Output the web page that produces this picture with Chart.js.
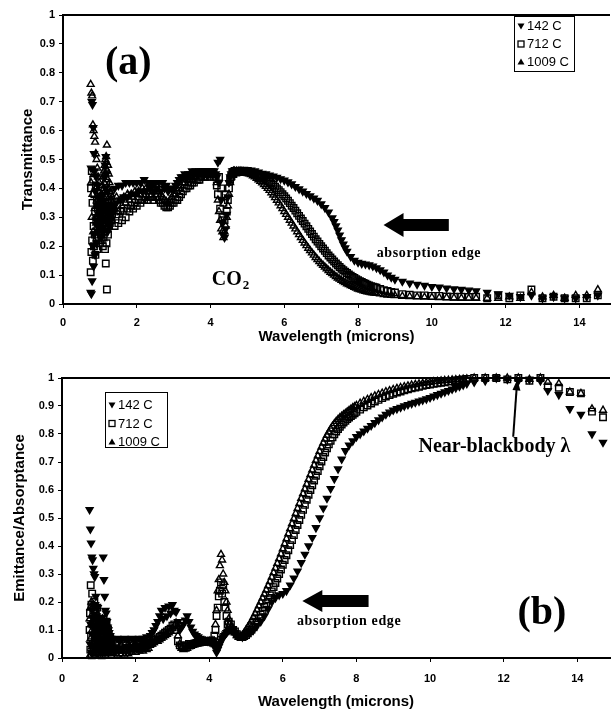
<!DOCTYPE html>
<html>
<head>
<meta charset="utf-8">
<script src="https://cdn.jsdelivr.net/npm/chart.js@4.4.0/dist/chart.umd.min.js"></script>
<style>
  html, body { margin: 0; padding: 0; background: #fff; overflow: hidden; }
  .panel { position: absolute; left: 0; width: 616px; height: 357px; }
  #panelA { top: 0; }
  #panelB { top: 357px; }
</style>
</head>
<body>
<div class="panel" id="panelA"><canvas id="chartA" width="616" height="357"></canvas></div>
<div class="panel" id="panelB"><canvas id="chartB" width="616" height="357"></canvas></div>
<script>
const sans = "'Liberation Sans', Arial, Helvetica, sans-serif";
const serif = "'Liberation Serif', 'Times New Roman', Times, serif";
Chart.defaults.font.family = sans;
Chart.defaults.color = '#000';

const seriesNames = ['142 C', '712 C', '1009 C'];

// (a) transmittance vs wavelength (microns)
const wavelengthA = [
  0.75, 0.76, 0.77, 0.78, 0.79, 0.80, 0.81, 0.82, 0.83, 0.84, 0.85, 0.86, 0.87, 0.88, 0.89, 0.90, 0.91, 0.92, 0.93, 0.94, 0.95, 0.96, 0.97, 0.98, 0.99, 1.00,
  1.01, 1.02, 1.03, 1.04, 1.05, 1.06, 1.07, 1.08, 1.09, 1.10, 1.11, 1.12, 1.13, 1.14, 1.15, 1.16, 1.17, 1.18, 1.19, 1.20, 1.21, 1.22, 1.23, 1.24, 1.25, 1.26, 1.27, 1.28, 1.29, 1.30, 1.31, 1.32, 1.33, 1.34,
  1.40, 1.45, 1.50, 1.55, 1.60, 1.65, 1.70, 1.75, 1.80, 1.85, 1.90, 1.95, 2.00, 2.05, 2.10, 2.15, 2.20, 2.25, 2.30, 2.35, 2.40, 2.45, 2.50, 2.55, 2.60, 2.65, 2.70, 2.75, 2.80, 2.85,
  2.90, 2.95, 3.00, 3.05, 3.10, 3.15, 3.20, 3.25, 3.30, 3.35, 3.40, 3.45, 3.50, 3.55, 3.60, 3.65, 3.70, 3.75, 3.80, 3.85, 3.90, 3.95, 4.00, 4.05, 4.10,
  4.14, 4.17, 4.20, 4.23, 4.26, 4.29, 4.32, 4.35, 4.38, 4.41, 4.44, 4.47, 4.50, 4.53, 4.56, 4.59, 4.62, 4.65,
  4.70, 4.75, 4.80, 4.85, 4.90, 4.95,
  5.00, 5.05, 5.10, 5.15, 5.20, 5.25, 5.30, 5.35, 5.40, 5.45, 5.50, 5.55, 5.60, 5.65, 5.70, 5.75, 5.80, 5.85, 5.90, 5.95,
  6.00, 6.05, 6.10, 6.15, 6.20, 6.25, 6.30, 6.35, 6.40, 6.45, 6.50, 6.55, 6.60, 6.65, 6.70, 6.75, 6.80, 6.85, 6.90, 6.95,
  7.00, 7.05, 7.10, 7.15, 7.20, 7.25, 7.30, 7.35, 7.40, 7.45, 7.50, 7.55, 7.60, 7.65, 7.70, 7.75, 7.80, 7.85, 7.90, 7.95,
  8.00, 8.05, 8.10, 8.15, 8.20, 8.25, 8.30, 8.35, 8.40, 8.45, 8.50,
  8.6, 8.7, 8.8, 8.9, 9.0,
  9.2, 9.4, 9.6, 9.8, 10.0, 10.2, 10.4, 10.6, 10.8, 11.0,
  11.2, 11.5, 11.8, 12.1, 12.4, 12.7, 13.0, 13.3, 13.6, 13.9, 14.2, 14.5
];
const trans142 = [
  0.04, 0.47, 0.035, 0.70, 0.08, 0.69, 0.20, 0.61, 0.13, 0.52, 0.24, 0.46, 0.17, 0.39, 0.29, 0.44, 0.21, 0.34, 0.27, 0.41, 0.25, 0.37, 0.31, 0.35, 0.30, 0.36,
  0.31, 0.26, 0.34, 0.23, 0.30, 0.28, 0.35, 0.25, 0.32, 0.38, 0.29, 0.44, 0.36, 0.48, 0.40, 0.51, 0.33, 0.45, 0.28, 0.39, 0.25, 0.34, 0.29, 0.31, 0.27, 0.33, 0.30, 0.32, 0.29, 0.34, 0.31, 0.33, 0.32, 0.34,
  0.40, 0.35, 0.41, 0.36, 0.41, 0.37, 0.42, 0.37, 0.42, 0.38, 0.42, 0.38, 0.42, 0.39, 0.42, 0.39, 0.43, 0.39, 0.42, 0.40, 0.42, 0.39, 0.42, 0.40, 0.42, 0.39, 0.42, 0.40, 0.41, 0.39,
  0.40, 0.40, 0.40, 0.41, 0.42, 0.43, 0.44, 0.44, 0.45, 0.44, 0.45, 0.45, 0.46, 0.45, 0.46, 0.45, 0.46, 0.46, 0.46, 0.46, 0.46, 0.46, 0.46, 0.46, 0.46,
  0.45, 0.44, 0.49, 0.42, 0.50, 0.36, 0.28, 0.24, 0.23, 0.26, 0.31, 0.37, 0.42, 0.44, 0.45, 0.46, 0.46, 0.46,
  0.46, null, 0.465, null, 0.466, null,
  0.465, null, 0.463, null, 0.46, null, 0.456, null, 0.452, null, 0.45, null, 0.446, null, 0.442, null, 0.438, null, 0.433, null,
  0.428, null, 0.422, null, 0.415, null, 0.406, null, 0.398, null, 0.39, null, 0.382, null, 0.374, null, 0.366, null, 0.358, null,
  0.346, null, 0.333, null, 0.318, null, 0.298, 0.285, 0.27, 0.255, 0.238, 0.222, 0.207, 0.194, 0.182, null, 0.164, null, 0.151, null,
  0.144, null, 0.14, null, 0.138, null, 0.135, null, 0.131, null, 0.125,
  0.118, 0.11, 0.10, 0.092, 0.085,
  0.078, 0.072, 0.068, 0.064, 0.06, 0.058, 0.055, 0.052, 0.05, 0.048,
  0.045, 0.04, 0.035, 0.03, 0.025, 0.03, 0.02, 0.025, 0.02, 0.02, 0.025, 0.03
];
const trans712 = [
  0.11, 0.40, 0.18, 0.46, 0.22, 0.35, 0.15, 0.43, 0.27, 0.20, 0.38, 0.24, 0.32, 0.17, 0.41, 0.29, 0.23, 0.36, 0.19, 0.33, 0.26, 0.30, 0.21, 0.34, 0.28, 0.32,
  0.27, 0.32, 0.24, 0.29, 0.22, 0.31, 0.26, 0.20, 0.28, 0.23, 0.33, 0.25, 0.30, 0.19, 0.37, 0.14, 0.42, 0.21, 0.05, 0.26, 0.34, 0.24, 0.29, 0.32, 0.27, 0.31, 0.28, 0.33, 0.30, 0.32, 0.29, 0.33, 0.31, 0.33,
  0.27, 0.31, 0.28, 0.32, 0.29, 0.33, 0.30, 0.33, 0.32, 0.34, 0.33, 0.35, 0.34, 0.36, 0.35, 0.36, 0.36, 0.37, 0.36, 0.37, 0.37, 0.36, 0.37, 0.37, 0.36, 0.35, 0.35, 0.34, 0.335, 0.335,
  0.34, 0.35, 0.35, 0.36, 0.36, 0.37, 0.38, 0.39, 0.40, 0.40, 0.41, 0.41, 0.42, 0.42, 0.43, 0.43, 0.43, 0.44, 0.44, 0.44, 0.44, 0.45, 0.44, 0.45, 0.44,
  0.44, 0.41, 0.38, 0.44, 0.33, 0.40, 0.30, 0.35, 0.29, 0.38, 0.32, 0.36, 0.40, 0.43, 0.44, 0.45, 0.45, 0.46,
  0.455, 0.457, 0.458, 0.458, 0.458, 0.457,
  0.456, 0.455, 0.453, 0.451, 0.449, 0.446, 0.443, 0.44, 0.437, 0.434, 0.43, 0.426, 0.422, 0.417, 0.412, 0.406, 0.40, 0.394, 0.387, 0.38,
  0.373, 0.365, 0.357, 0.349, 0.34, 0.332, 0.323, 0.314, 0.305, 0.296, 0.287, 0.278, 0.269, 0.26, 0.251, 0.242, 0.233, 0.224, 0.216, 0.208,
  0.2, 0.192, 0.184, 0.176, 0.168, 0.161, 0.154, 0.147, 0.14, 0.134, 0.128, 0.122, 0.117, 0.112, 0.107, 0.102, 0.098, 0.094, 0.09, 0.086,
  0.082, 0.079, 0.076, 0.073, 0.07, 0.067, 0.064, 0.062, 0.06, 0.058, 0.056,
  0.052, 0.048, 0.045, 0.042, 0.04,
  0.034, 0.032, 0.03, 0.03, 0.028, 0.028, 0.026, 0.025, 0.025, 0.024,
  0.025, 0.02, 0.03, 0.02, 0.03, 0.05, 0.02, 0.025, 0.02, 0.02, 0.02, 0.03
];
const trans1009 = [
  0.76, 0.42, 0.73, 0.30, 0.72, 0.38, 0.62, 0.25, 0.60, 0.45, 0.58, 0.33, 0.56, 0.40, 0.52, 0.28, 0.50, 0.36, 0.47, 0.31, 0.44, 0.39, 0.35, 0.42, 0.37, 0.33,
  0.33, 0.30, 0.36, 0.27, 0.38, 0.32, 0.41, 0.35, 0.44, 0.40, 0.46, 0.42, 0.48, 0.45, 0.50, 0.47, 0.51, 0.49, 0.55, 0.46, 0.43, 0.48, 0.40, 0.45, 0.37, 0.42, 0.35, 0.39, 0.33, 0.38, 0.36, 0.34, 0.37, 0.35,
  0.33, 0.37, 0.32, 0.36, 0.34, 0.37, 0.35, 0.38, 0.36, 0.38, 0.37, 0.39, 0.38, 0.39, 0.38, 0.40, 0.39, 0.40, 0.39, 0.40, 0.40, 0.40, 0.40, 0.39, 0.39, 0.38, 0.37, 0.36, 0.355, 0.35,
  0.36, 0.37, 0.38, 0.38, 0.39, 0.40, 0.41, 0.42, 0.42, 0.43, 0.43, 0.43, 0.44, 0.44, 0.44, 0.45, 0.45, 0.45, 0.45, 0.45, 0.45, 0.45, 0.45, 0.45, 0.45,
  0.45, 0.42, 0.36, 0.32, 0.29, 0.26, 0.25, 0.23, 0.25, 0.27, 0.30, 0.34, 0.38, 0.42, 0.44, 0.45, 0.46, 0.46,
  0.46, 0.46, 0.46, 0.459, 0.458, 0.456,
  0.454, 0.451, 0.448, 0.444, 0.44, 0.435, 0.43, 0.425, 0.419, 0.413, 0.407, 0.40, 0.393, 0.385, 0.377, 0.368, 0.359, 0.35, 0.34, 0.33,
  0.32, 0.31, 0.30, 0.29, 0.28, 0.27, 0.26, 0.25, 0.24, 0.23, 0.22, 0.211, 0.202, 0.193, 0.185, 0.177, 0.169, 0.161, 0.154, 0.147,
  0.14, 0.134, 0.128, 0.122, 0.116, 0.11, 0.105, 0.10, 0.095, 0.09, 0.086, 0.082, 0.078, 0.074, 0.07, 0.067, 0.064, 0.061, 0.058, 0.055,
  0.052, 0.05, 0.048, 0.046, 0.044, 0.042, 0.041, 0.04, 0.039, 0.038, 0.037,
  0.035, 0.033, 0.031, 0.03, 0.029,
  0.027, 0.026, 0.025, 0.024, 0.023, 0.022, 0.022, 0.021, 0.02, 0.02,
  0.02, 0.02, 0.02, 0.025, 0.02, 0.04, 0.025, 0.03, 0.02, 0.03, 0.03, 0.05
];

// (b) emittance / absorptance vs wavelength (microns)
const wavelengthB = [
  0.75, 0.76, 0.77, 0.78, 0.79, 0.80, 0.81, 0.82, 0.83, 0.84, 0.85, 0.86, 0.87, 0.88, 0.89, 0.90, 0.91, 0.92, 0.93, 0.94, 0.95, 0.96, 0.97, 0.98, 0.99, 1.00,
  1.01, 1.02, 1.03, 1.04, 1.05, 1.06, 1.07, 1.08, 1.09, 1.10, 1.11, 1.12, 1.13, 1.14, 1.15, 1.16, 1.17, 1.18, 1.19, 1.20, 1.21, 1.22, 1.23, 1.24, 1.25, 1.26, 1.27, 1.28, 1.29, 1.30, 1.31, 1.32, 1.33, 1.34,
  1.40, 1.45, 1.50, 1.55, 1.60, 1.65, 1.70, 1.75, 1.80, 1.85, 1.90, 1.95, 2.00, 2.05, 2.10, 2.15, 2.20, 2.25, 2.30, 2.35, 2.40, 2.45, 2.50, 2.55, 2.60, 2.65, 2.70, 2.75, 2.80, 2.85,
  2.90, 2.95, 3.00, 3.05, 3.10, 3.15, 3.20, 3.25, 3.30, 3.35, 3.40, 3.45, 3.50, 3.55, 3.60, 3.65, 3.70, 3.75, 3.80, 3.85, 3.90, 3.95, 4.00, 4.05, 4.10,
  4.14, 4.17, 4.20, 4.23, 4.26, 4.29, 4.32, 4.35, 4.38, 4.41, 4.44, 4.47, 4.50, 4.53, 4.56, 4.59, 4.62, 4.65,
  4.70, 4.75, 4.80, 4.85, 4.90, 4.95,
  5.00, 5.05, 5.10, 5.15, 5.20, 5.25, 5.30, 5.35, 5.40, 5.45, 5.50, 5.55, 5.60, 5.65, 5.70, 5.75, 5.80, 5.85, 5.90, 5.95,
  6.00, 6.05, 6.10, 6.15, 6.20, 6.25, 6.30, 6.35, 6.40, 6.45, 6.50, 6.55, 6.60, 6.65, 6.70, 6.75, 6.80, 6.85, 6.90, 6.95,
  7.00, 7.05, 7.10, 7.15, 7.20, 7.25, 7.30, 7.35, 7.40, 7.45, 7.50, 7.55, 7.60, 7.65, 7.70, 7.75, 7.80, 7.85, 7.90, 7.95,
  8.00,
  8.1, 8.2, 8.3, 8.4, 8.5, 8.6, 8.7, 8.8, 8.9, 9.0, 9.1, 9.2, 9.3, 9.4, 9.5, 9.6, 9.7, 9.8, 9.9, 10.0,
  10.1, 10.2, 10.3, 10.4, 10.5, 10.6, 10.7, 10.8, 10.9, 11.0,
  11.2, 11.5, 11.8, 12.1, 12.4, 12.7, 13.0, 13.2, 13.5, 13.8, 14.1, 14.4, 14.7
];
const emit142 = [
  0.53, 0.05, 0.46, 0.12, 0.41, 0.02, 0.36, 0.17, 0.35, 0.08, 0.32, 0.14, 0.30, 0.04, 0.29, 0.19, 0.10, 0.22, 0.06, 0.15, 0.03, 0.11, 0.18, 0.07, 0.13, 0.09,
  0.09, 0.04, 0.12, 0.02, 0.10, 0.06, 0.14, 0.03, 0.11, 0.07, 0.13, 0.36, 0.05, 0.28, 0.09, 0.22, 0.04, 0.17, 0.12, 0.16, 0.08, 0.13, 0.03, 0.11, 0.06, 0.10, 0.04, 0.09, 0.07, 0.05, 0.08, 0.04, 0.07, 0.05,
  0.065, 0.03, 0.07, 0.035, 0.065, 0.03, 0.07, 0.04, 0.065, 0.035, 0.07, 0.04, 0.065, 0.04, 0.07, 0.045, 0.07, 0.05, 0.075, 0.06, 0.08, 0.09, 0.10, 0.115, 0.13, 0.15, 0.17, 0.14, 0.18, 0.15,
  0.185, 0.16, 0.19, 0.17, 0.165, 0.13, 0.10, 0.11, 0.12, 0.135, 0.15, 0.13, 0.11, 0.095, 0.085, 0.08, 0.075, 0.07, 0.068, 0.065, 0.062, 0.06, 0.058, 0.055, 0.05,
  0.05, 0.035, 0.02, 0.03, 0.04, 0.05, 0.06, 0.07, 0.075, 0.08, 0.085, 0.09, 0.095, 0.10, 0.10, 0.10, 0.10, 0.095,
  0.09, null, 0.08, null, 0.075, null,
  0.08, null, 0.09, null, 0.10, null, 0.115, null, 0.13, null, 0.15, null, 0.175, null, 0.20, null, 0.215, null, 0.225, null,
  0.23, null, 0.24, null, 0.26, null, 0.285, null, 0.31, null, 0.34, null, 0.37, null, 0.40, null, 0.43, null, 0.465, null,
  0.50, null, 0.535, null, 0.57, null, 0.605, null, 0.64, null, 0.675, null, 0.71, null, 0.74, null, 0.76, null, 0.775, null,
  0.79,
  0.80, 0.81, 0.82, 0.83, 0.84, 0.85, 0.86, 0.87, 0.878, 0.885, 0.89, 0.895, 0.90, 0.905, 0.909, 0.913, 0.917, 0.921, 0.925, 0.93,
  0.935, 0.94, 0.945, 0.95, 0.955, 0.96, 0.965, 0.97, 0.975, 0.98,
  0.985, 0.99, 1.0, 0.995, 0.99, 0.995, 0.99, 0.955, 0.94, 0.89, 0.87, 0.80, 0.77
];
const emit712 = [
  0.10, 0.16, 0.03, 0.26, 0.08, 0.19, 0.01, 0.23, 0.12, 0.05, 0.17, 0.02, 0.14, 0.20, 0.07, 0.11, 0.04, 0.16, 0.09, 0.13, 0.02, 0.18, 0.06, 0.10, 0.04, 0.08,
  0.05, 0.11, 0.02, 0.08, 0.13, 0.04, 0.09, 0.01, 0.12, 0.06, 0.03, 0.10, 0.14, 0.05, 0.08, 0.02, 0.11, 0.06, 0.03, 0.09, 0.13, 0.04, 0.07, 0.02, 0.10, 0.05, 0.08, 0.03, 0.06, 0.04, 0.07, 0.03, 0.05, 0.04,
  0.035, 0.05, 0.03, 0.045, 0.035, 0.05, 0.03, 0.045, 0.035, 0.05, 0.035, 0.045, 0.04, 0.05, 0.04, 0.05, 0.04, 0.05, 0.045, 0.05, 0.05, 0.055, 0.06, 0.065, 0.07, 0.075, 0.08, 0.085, 0.09, 0.095,
  0.10, 0.105, 0.115, 0.12, 0.10, 0.06, 0.045, 0.04, 0.04, 0.045, 0.045, 0.05, 0.05, 0.05, 0.052, 0.054, 0.055, 0.056, 0.057, 0.058, 0.058, 0.06, 0.06, 0.062, 0.06,
  0.08, 0.10, 0.15, 0.18, 0.22, 0.24, 0.27, 0.23, 0.26, 0.20, 0.18, 0.15, 0.12, 0.13, 0.11, 0.12, 0.10, 0.10,
  0.095, 0.085, 0.078, 0.075, 0.075, 0.078,
  0.082, 0.088, 0.095, 0.102, 0.11, 0.12, 0.13, 0.142, 0.155, 0.168, 0.182, 0.196, 0.21, 0.224, 0.238, 0.253, 0.268, 0.284, 0.30, 0.316,
  0.333, 0.35, 0.367, 0.385, 0.403, 0.421, 0.439, 0.457, 0.475, 0.493, 0.511, 0.529, 0.547, 0.565, 0.583, 0.60, 0.617, 0.634, 0.651, 0.668,
  0.685, 0.702, 0.718, 0.734, 0.749, 0.763, 0.776, 0.788, 0.799, 0.809, 0.818, 0.826, 0.834, 0.841, 0.847, 0.853, 0.859, 0.864, 0.869, 0.874,
  0.879,
  0.887, 0.895, 0.902, 0.909, 0.916, 0.922, 0.928, 0.934, 0.939, 0.944, 0.948, 0.952, 0.956, 0.96, 0.963, 0.966, 0.969, 0.972, 0.975, 0.977,
  0.979, 0.981, 0.983, 0.985, 0.987, 0.989, 0.991, 0.993, 0.995, 0.997,
  1.0, 1.0, 1.0, 0.995, 1.0, 0.99, 1.0, 0.97, 0.965, 0.95, 0.945, 0.88, 0.86
];
const emit1009 = [
  0.14, 0.01, 0.18, 0.07, 0.12, 0.20, 0.04, 0.10, 0.15, 0.02, 0.09, 0.19, 0.06, 0.13, 0.01, 0.17, 0.11, 0.03, 0.14, 0.05, 0.12, 0.08, 0.02, 0.15, 0.06, 0.11,
  0.07, 0.01, 0.10, 0.05, 0.03, 0.12, 0.06, 0.09, 0.02, 0.14, 0.08, 0.04, 0.11, 0.02, 0.06, 0.13, 0.07, 0.01, 0.10, 0.04, 0.08, 0.02, 0.12, 0.05, 0.03, 0.09, 0.02, 0.06, 0.04, 0.07, 0.03, 0.05, 0.02, 0.04,
  0.015, 0.025, 0.01, 0.025, 0.015, 0.025, 0.01, 0.025, 0.015, 0.025, 0.02, 0.03, 0.02, 0.03, 0.025, 0.03, 0.025, 0.035, 0.03, 0.035, 0.05, 0.05, 0.055, 0.06, 0.06, 0.065, 0.07, 0.075, 0.08, 0.085,
  0.09, 0.095, 0.105, 0.115, 0.125, 0.08, 0.05, 0.035, 0.03, 0.032, 0.035, 0.04, 0.042, 0.045, 0.048, 0.05, 0.052, 0.054, 0.055, 0.056, 0.057, 0.058, 0.06, 0.06, 0.062,
  0.06, 0.12, 0.17, 0.24, 0.28, 0.33, 0.37, 0.35, 0.30, 0.27, 0.24, 0.20, 0.17, 0.14, 0.12, 0.11, 0.11, 0.10,
  0.09, 0.08, 0.075, 0.077, 0.082, 0.09,
  0.10, 0.11, 0.12, 0.132, 0.145, 0.158, 0.172, 0.186, 0.20, 0.214, 0.228, 0.243, 0.258, 0.273, 0.289, 0.305, 0.321, 0.338, 0.355, 0.372,
  0.39, 0.408, 0.426, 0.444, 0.462, 0.48, 0.498, 0.516, 0.534, 0.552, 0.57, 0.587, 0.604, 0.621, 0.638, 0.655, 0.672, 0.689, 0.706, 0.722,
  0.738, 0.753, 0.768, 0.782, 0.795, 0.807, 0.818, 0.828, 0.837, 0.845, 0.852, 0.858, 0.864, 0.869, 0.874, 0.879, 0.884, 0.889, 0.894, 0.898,
  0.902,
  0.91, 0.917, 0.924, 0.93, 0.936, 0.941, 0.946, 0.951, 0.955, 0.959, 0.963, 0.966, 0.969, 0.972, 0.975, 0.977, 0.979, 0.981, 0.983, 0.985,
  0.987, 0.988, 0.99, 0.991, 0.992, 0.993, 0.994, 0.995, 0.996, 0.997,
  1.0, 1.0, 1.0, 1.0, 1.0, 0.995, 1.0, 0.985, 0.98, 0.95, 0.945, 0.89, 0.885
];

// marker look per series: filled down-triangle, open square, open triangle
const markerStyles = [
  { pointStyle: 'triangle', rotation: 180, fill: '#000', radius: 4 },
  { pointStyle: 'rect', rotation: 0, fill: 'rgba(255,255,255,0)', radius: 4.6 },
  { pointStyle: 'triangle', rotation: 0, fill: 'rgba(255,255,255,0)', radius: 4 }
];

function toPoints(xs, ys) {
  const out = [];
  xs.forEach(function(x, i) {
    if (ys[i] !== null && ys[i] !== undefined) out.push({ x: x, y: ys[i] });
  });
  return out;
}

function legendMark(ctx, i, x, y) {
  ctx.beginPath();
  if (i === 0) {
    ctx.moveTo(x - 3.5, y - 2.5); ctx.lineTo(x + 3.5, y - 2.5); ctx.lineTo(x, y + 3.5);
    ctx.closePath(); ctx.fill();
  } else if (i === 1) {
    ctx.lineWidth = 1.3;
    ctx.strokeRect(x - 3, y - 3, 6, 6);
  } else {
    ctx.moveTo(x - 3.5, y + 2.5); ctx.lineTo(x + 3.5, y + 2.5); ctx.lineTo(x, y - 3.5);
    ctx.closePath(); ctx.fill();
  }
}

function drawLegend(ctx, box) {
  ctx.save();
  ctx.fillStyle = '#fff';
  ctx.fillRect(box.x, box.y, box.w, box.h);
  ctx.strokeStyle = '#000';
  ctx.lineWidth = 1;
  ctx.strokeRect(box.x + 0.5, box.y + 0.5, box.w, box.h);
  ctx.fillStyle = '#000';
  ctx.font = '13px ' + sans;
  ctx.textAlign = 'left';
  ctx.textBaseline = 'middle';
  seriesNames.forEach(function(name, i) {
    const y = box.y + box.row0 + i * box.rowH;
    legendMark(ctx, i, box.x + 7, y);
    ctx.fillText(name, box.x + 13, y + 0.5);
  });
  ctx.restore();
}

function blockArrow(ctx, tipX, endX, y, headH, shaftH, headL) {
  ctx.beginPath();
  ctx.moveTo(tipX, y);
  ctx.lineTo(tipX + headL, y - headH / 2);
  ctx.lineTo(tipX + headL, y - shaftH / 2);
  ctx.lineTo(endX, y - shaftH / 2);
  ctx.lineTo(endX, y + shaftH / 2);
  ctx.lineTo(tipX + headL, y + shaftH / 2);
  ctx.lineTo(tipX + headL, y + headH / 2);
  ctx.closePath();
  ctx.fill();
}

function drawNotes(chart, notes) {
  const ctx = chart.ctx;
  const X = function(v) { return chart.scales.x.getPixelForValue(v); };
  const Y = function(v) { return chart.scales.y.getPixelForValue(v); };
  ctx.save();
  ctx.fillStyle = '#000';
  ctx.strokeStyle = '#000';
  notes.forEach(function(n) {
    if (n.type === 'text') {
      ctx.font = n.font;
      ctx.textAlign = 'center';
      ctx.textBaseline = 'middle';
      ctx.letterSpacing = n.spacing || '0px';
      ctx.fillText(n.text, X(n.x), Y(n.y));
      ctx.letterSpacing = '0px';
    } else if (n.type === 'co2') {
      ctx.textAlign = 'left';
      ctx.textBaseline = 'middle';
      ctx.font = 'bold 20px ' + serif;
      const w = ctx.measureText('CO').width;
      ctx.font = 'bold 13px ' + serif;
      const w2 = ctx.measureText('2').width;
      const x0 = X(n.x) - (w + w2) / 2;
      ctx.font = 'bold 20px ' + serif;
      ctx.fillText('CO', x0, Y(n.y));
      ctx.font = 'bold 13px ' + serif;
      ctx.fillText('2', x0 + w + 1, Y(n.y) + 6);
    } else if (n.type === 'block') {
      blockArrow(ctx, X(n.x0), X(n.x1), Y(n.y), n.headH, n.shaftH, n.headL);
    } else if (n.type === 'line') {
      const x0 = X(n.x0), y0 = Y(n.y0), x1 = X(n.x1), y1 = Y(n.y1);
      const a = Math.atan2(y1 - y0, x1 - x0);
      ctx.lineWidth = 2;
      ctx.beginPath();
      ctx.moveTo(x0, y0);
      ctx.lineTo(x1 - Math.cos(a) * 8, y1 - Math.sin(a) * 8);
      ctx.stroke();
      ctx.beginPath();
      ctx.moveTo(x1, y1);
      ctx.lineTo(x1 - Math.cos(a) * 11 + Math.sin(a) * 4, y1 - Math.sin(a) * 11 - Math.cos(a) * 4);
      ctx.lineTo(x1 - Math.cos(a) * 11 - Math.sin(a) * 4, y1 - Math.sin(a) * 11 + Math.cos(a) * 4);
      ctx.closePath();
      ctx.fill();
    }
  });
  ctx.restore();
}

const extrasPlugin = {
  id: 'extras',
  afterDraw(chart, args, opts) {
    const ctx = chart.ctx;
    const area = chart.chartArea;
    // top edge of the plot frame
    ctx.save();
    ctx.strokeStyle = '#000';
    ctx.lineWidth = 2;
    ctx.beginPath();
    ctx.moveTo(area.left, area.top);
    ctx.lineTo(area.right, area.top);
    ctx.stroke();
    ctx.restore();
    drawNotes(chart, opts.notes);
    drawLegend(ctx, opts.legendBox);
  }
};

function makeChart(id, xs, series, cfg) {
  const datasets = series.map(function(ys, i) {
    const m = markerStyles[i];
    return {
      label: seriesNames[i],
      data: toPoints(xs, ys),
      pointStyle: m.pointStyle,
      pointRotation: m.rotation,
      pointRadius: m.radius,
      pointBackgroundColor: m.fill,
      pointBorderColor: '#000',
      pointBorderWidth: 1.4,
      showLine: false,
      clip: false
    };
  });
  return new Chart(document.getElementById(id), {
    type: 'scatter',
    data: { datasets: datasets },
    options: {
      responsive: false,
      animation: false,
      events: [],
      layout: { padding: { top: cfg.padTop, left: 0, right: 0, bottom: 0 } },
      plugins: {
        legend: { display: false },
        tooltip: { enabled: false },
        extras: { notes: cfg.notes, legendBox: cfg.legendBox }
      },
      scales: {
        x: {
          type: 'linear',
          min: 0,
          max: cfg.xMax,
          ticks: {
            stepSize: 2,
            includeBounds: false,
            padding: cfg.xTickPad,
            color: '#000',
            font: { size: 11, weight: 'bold' }
          },
          grid: { drawOnChartArea: false, tickLength: 4, color: '#000' },
          border: { display: true, color: '#000', width: 2 },
          title: {
            display: true,
            text: 'Wavelength (microns)',
            color: '#000',
            font: { size: 15, weight: 'bold' },
            padding: { top: 0, bottom: cfg.xTitlePad }
          },
          afterFit(scale) { scale.height = cfg.xAxisH; }
        },
        y: {
          min: 0,
          max: 1,
          ticks: {
            stepSize: 0.1,
            padding: 4,
            color: '#000',
            font: { size: 11, weight: 'bold' },
            callback: function(v) { return String(Math.round(v * 10) / 10); }
          },
          grid: { drawOnChartArea: false, tickLength: 4, color: '#000' },
          border: { display: true, color: '#000', width: 2 },
          title: {
            display: true,
            text: cfg.yTitle,
            color: '#000',
            font: { size: 15, weight: 'bold' },
            padding: { top: cfg.yTitlePad, bottom: 0 }
          },
          afterFit(scale) { scale.width = cfg.axisW; }
        }
      }
    },
    plugins: [extrasPlugin]
  });
}

makeChart('chartA', wavelengthA, [trans142, trans712, trans1009], {
  yTitle: 'Transmittance',
  yTitlePad: 19,
  axisW: 63,
  padTop: 15,
  xMax: 14.83,
  xAxisH: 53,
  xTickPad: 8,
  xTitlePad: 11,
  legendBox: { x: 514, y: 16, w: 60, h: 55, row0: 10, rowH: 18 },
  notes: [
    { type: 'text', text: '(a)', font: 'bold 40px ' + serif, x: 1.77, y: 0.83 },
    { type: 'co2', x: 4.53, y: 0.083 },
    { type: 'block', x0: 8.69, x1: 10.46, y: 0.273, headH: 24, shaftH: 12, headL: 20 },
    { type: 'text', text: 'absorption edge', font: 'bold 14px ' + serif, spacing: '0.6px', x: 9.92, y: 0.176 }
  ]
});

makeChart('chartB', wavelengthB, [emit142, emit712, emit1009], {
  yTitle: 'Emittance/Absorptance',
  yTitlePad: 11,
  axisW: 62,
  padTop: 21,
  xMax: 14.89,
  xAxisH: 56,
  xTickPad: 10,
  xTitlePad: 3,
  legendBox: { x: 105, y: 35, w: 62, h: 55, row0: 13, rowH: 18.5 },
  notes: [
    { type: 'text', text: '(b)', font: 'bold 40px ' + serif, x: 13.04, y: 0.16 },
    { type: 'text', text: 'Near-blackbody \u03bb', font: 'bold 20px ' + serif, x: 11.75, y: 0.754 },
    { type: 'line', x0: 12.26, y0: 0.79, x1: 12.37, y1: 0.995 },
    { type: 'block', x0: 6.53, x1: 8.33, y: 0.204, headH: 22, shaftH: 12, headL: 20 },
    { type: 'text', text: 'absorption edge', font: 'bold 14px ' + serif, spacing: '0.6px', x: 7.8, y: 0.129 }
  ]
});
</script>
</body>
</html>
